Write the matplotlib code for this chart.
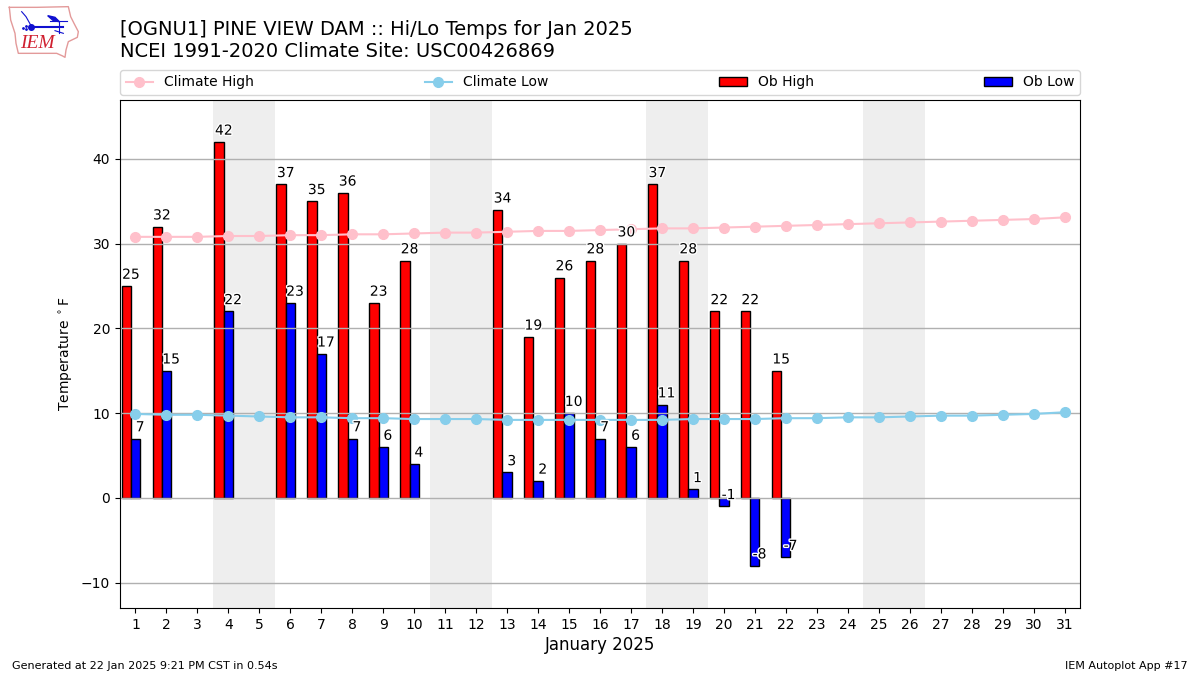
import matplotlib
matplotlib.use("Agg")
import matplotlib.pyplot as plt
import matplotlib.patheffects as pe
import numpy as np

# Daily obs, None where the site has not reported
days = list(range(1, 32))
ob_high = [25, 32, None, 42, None, 37, 35, 36, 23, 28, None, None, 34, 19, 26, 28, 30, 37, 28, 22, 22, 15]
ob_low = [7, 15, None, 22, None, 23, 17, 7, 6, 4, None, None, 3, 2, 10, 7, 6, 11, 1, -1, -8, -7]
climate_high = [30.8, 30.8, 30.8, 30.9, 30.9, 31.0, 31.0, 31.1, 31.1, 31.2, 31.3, 31.3, 31.4, 31.5, 31.5, 31.6,
                31.7, 31.8, 31.8, 31.9, 32.0, 32.1, 32.2, 32.3, 32.4, 32.5, 32.6, 32.7, 32.8, 32.9, 33.1]
climate_low = [9.9, 9.8, 9.8, 9.7, 9.6, 9.5, 9.5, 9.4, 9.4, 9.3, 9.3, 9.3, 9.2, 9.2, 9.2, 9.2,
               9.2, 9.2, 9.3, 9.3, 9.3, 9.4, 9.4, 9.5, 9.5, 9.6, 9.7, 9.7, 9.8, 9.9, 10.1]
weekends = [(3.5, 5.5), (10.5, 12.5), (17.5, 19.5), (24.5, 26.5)]

W, H = 1200, 675
fig = plt.figure(figsize=(12, 6.75), dpi=100)
ax = fig.add_axes([120 / W, 1 - 608 / H, 960 / W, 508 / H])

# weekend shading
for start, stop in weekends:
    ax.axvspan(start, stop, color="#eeeeee", lw=0, zorder=0)

hi_x = [d - 0.3 for d, v in zip(days, ob_high) if v is not None]
hi_y = [v for v in ob_high if v is not None]
lo_x = [d for d, v in zip(days, ob_low) if v is not None]
lo_y = [v for v in ob_low if v is not None]

ax.bar(hi_x, hi_y, width=0.3, color="r", edgecolor="k", linewidth=1, label="Ob High")
ax.bar(lo_x, lo_y, width=0.3, color="b", edgecolor="k", linewidth=1, label="Ob Low")
ax.plot(days, climate_high, color="pink", marker="o", lw=1.5, ms=7, label="Climate High")
ax.plot(days, climate_low, color="skyblue", marker="o", lw=1.5, ms=7, label="Climate Low")

stroke = [pe.withStroke(linewidth=2, foreground="white")]
for x, y in zip(hi_x, hi_y):
    ax.text(x + 0.15, y + 0.5, str(y), ha="center", va="bottom", fontsize=10, path_effects=stroke, zorder=5)
for x, y in zip(lo_x, lo_y):
    ax.text(x + 0.15, y + 0.5, str(y), ha="center", va="bottom", fontsize=10, path_effects=stroke, zorder=5)

ax.set_xlim(0.5, 31.5)
ax.set_ylim(-13, 46.95)
ax.set_xticks(days)
ax.set_yticks(np.arange(-10, 41, 10))
ax.grid(axis="y", color="#b0b0b0", lw=1)
ax.set_xlabel("January 2025", fontsize=12, labelpad=3)
ax.set_ylabel(r"Temperature $^\circ$F", fontsize=10)

handles, labels = ax.get_legend_handles_labels()
ax.legend(handles, labels, ncol=4, mode="expand", loc="lower left", bbox_to_anchor=(0, 1.01, 1, 0.05),
          borderaxespad=0, fontsize=10)

fig.text(120 / W, 1 - 61 / H, "[OGNU1] PINE VIEW DAM :: Hi/Lo Temps for Jan 2025\nNCEI 1991-2020 Climate Site: USC00426869",
         fontsize=14, ha="left", va="bottom", linespacing=1.2)
fig.text(12 / W, 1 - 671 / H, "Generated at 22 Jan 2025 9:21 PM CST in 0.54s", fontsize=8, ha="left", va="bottom")
fig.text(1188 / W, 1 - 671 / H, "IEM Autoplot App #17", fontsize=8, ha="right", va="bottom")

# IEM logo, traced roughly from the corner of the picture
logo = fig.add_axes([0, 1 - 66 / H, 100 / W, 66 / H])
logo.set_xlim(0, 300)
logo.set_ylim(198, 0)
logo.axis("off")
outline_x = [28, 110, 205, 212, 222, 235, 232, 205, 198, 195, 188, 170, 55, 48, 45, 32, 28]
outline_y = [22, 22, 20, 50, 70, 95, 112, 125, 150, 172, 168, 160, 160, 130, 100, 60, 22]
logo.plot(outline_x, outline_y, color="#e39a9a", lw=1)
logo.plot([95, 190], [80, 80], color="#1010d0", lw=1.5)
logo.plot([93], [80], "o", color="#1010d0", ms=4)
logo.fill([143, 165, 178, 160], [47, 52, 65, 62], color="#1010d0")
logo.plot([150, 200], [63, 63], color="#1010d0", lw=0.8)
logo.plot([178, 178], [65, 100], color="#1010d0", lw=0.8)
logo.plot([165, 190], [92, 100], color="#1010d0", lw=0.8)
logo.plot([65, 78, 92], [35, 50, 75], color="#1010d0", lw=0.8)
logo.plot([70, 78, 78], [85, 78, 88], ".", color="#1010d0", ms=2)
logo.text(112, 132, "IEM", color="#d02030", fontsize=14, family="Liberation Serif", style="italic",
          ha="center", va="center")

fig.savefig("out.png", dpi=100)
